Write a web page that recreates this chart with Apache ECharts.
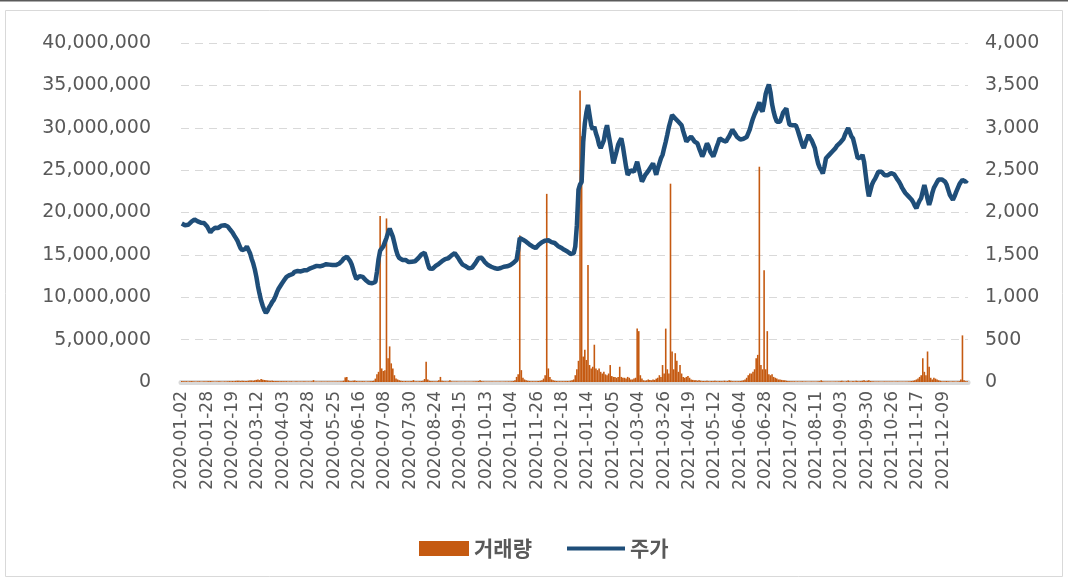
<!DOCTYPE html>
<html>
<head>
<meta charset="utf-8">
<script src="https://cdn.jsdelivr.net/npm/echarts@6/dist/echarts.min.js"></script>
<style>
html,body{margin:0;padding:0;background:#fff;}
#chart{width:1068px;height:582px;}
</style>
</head>
<body>
<div id="chart"></div>
<script>
// KRX market holidays (non-trading weekdays) in 2020-2021
const holidays = [
  '2020-01-24','2020-01-27','2020-04-15','2020-04-30','2020-05-01','2020-05-05',
  '2020-08-17','2020-09-30','2020-10-01','2020-10-02','2020-10-09','2020-12-25','2020-12-31',
  '2021-01-01','2021-02-11','2021-02-12','2021-03-01','2021-05-05','2021-05-19',
  '2021-08-16','2021-09-20','2021-09-21','2021-09-22','2021-10-04','2021-10-11','2021-12-31'
];
const startDate = '2020-01-02';
const endDate = '2021-12-30';

// 주가 (share price, right axis) — one value per trading day
const price = [
  1870,1862,1850,1848,1855,1872,1890,1905,1918,1910,1895,1888,1880,1870,1876,1860,
  1835,1800,1765,1790,1812,1820,1832,1818,1840,1845,1838,1850,1852,1835,1810,1790,
  1762,1730,1700,1670,1625,1580,1555,1540,1570,1598,1590,1520,1455,1400,1330,1240,
  1130,1040,960,900,850,815,840,880,910,945,970,1010,1060,1100,1130,1160,
  1180,1215,1240,1250,1262,1240,1275,1300,1320,1310,1290,1305,1325,1318,1300,1320,
  1335,1342,1330,1355,1362,1370,1358,1365,1380,1375,1368,1390,1395,1385,1392,1380,
  1375,1380,1370,1395,1410,1430,1455,1470,1480,1465,1430,1390,1330,1265,1215,1235,
  1250,1262,1240,1220,1200,1185,1170,1160,1165,1172,1180,1300,1450,1550,1570,1600,
  1650,1700,1760,1810,1790,1715,1640,1560,1500,1465,1450,1440,1455,1440,1420,1415,
  1405,1420,1435,1425,1440,1460,1480,1505,1520,1525,1470,1400,1340,1320,1335,1355,
  1370,1380,1395,1410,1425,1440,1450,1445,1460,1480,1495,1510,1520,1500,1470,1440,
  1410,1385,1380,1365,1350,1340,1335,1350,1375,1400,1430,1460,1480,1465,1440,1415,
  1395,1380,1370,1360,1350,1345,1338,1335,1340,1345,1352,1360,1355,1365,1370,1380,
  1390,1405,1420,1440,1560,1700,1690,1680,1665,1655,1640,1625,1610,1600,1590,1580,
  1600,1620,1640,1650,1660,1668,1680,1672,1660,1650,1645,1640,1620,1605,1595,1585,
  1570,1560,1555,1540,1525,1510,1500,1520,1600,1850,2270,2330,2360,2830,3050,3180,
  3270,3150,3030,2980,3010,2935,2880,2800,2760,2740,2850,2960,3030,2920,2815,2700,
  2580,2650,2720,2800,2840,2875,2780,2660,2540,2445,2470,2500,2520,2480,2540,2600,
  2520,2440,2365,2400,2440,2465,2490,2520,2550,2580,2510,2445,2520,2580,2640,2680,
  2760,2835,2920,3010,3080,3150,3130,3110,3090,3070,3050,3030,2960,2900,2835,2860,
  2880,2895,2870,2840,2830,2815,2760,2710,2660,2700,2760,2815,2780,2720,2690,2660,
  2710,2770,2820,2875,2860,2850,2840,2835,2870,2900,2940,2975,2950,2920,2890,2870,
  2860,2855,2870,2880,2890,2895,2980,3050,3110,3160,3200,3250,3300,3220,3190,3280,
  3400,3460,3510,3420,3280,3190,3120,3070,3060,3070,3120,3180,3200,3230,3120,3035,
  3050,3030,3040,3030,2980,2920,2860,2800,2760,2820,2870,2915,2880,2850,2835,2760,
  2660,2580,2530,2500,2460,2540,2640,2660,2680,2700,2720,2740,2760,2790,2810,2825,
  2835,2870,2920,2960,2995,2950,2900,2875,2800,2720,2640,2620,2650,2680,2600,2450,
  2300,2190,2260,2330,2370,2400,2440,2480,2500,2480,2460,2440,2425,2440,2455,2465,
  2465,2450,2420,2390,2365,2330,2290,2260,2230,2210,2190,2170,2150,2120,2080,2050,
  2100,2140,2170,2250,2325,2250,2160,2090,2150,2230,2290,2325,2360,2390,2405,2390,
  2380,2365,2330,2270,2210,2180,2150,2190,2240,2285,2330,2360,2385,2370,2360,2380
];

// 거래량 (trading volume, millions of shares, left axis)
const volumeMillions = [
  0.12,0.09,0.08,0.10,0.07,0.09,0.11,0.08,0.07,0.06,0.08,0.09,0.07,0.06,0.08,0.07,
  0.09,0.10,0.12,0.08,0.07,0.06,0.07,0.09,0.08,0.06,0.07,0.08,0.07,0.09,0.11,0.10,
  0.12,0.10,0.13,0.15,0.14,0.12,0.16,0.13,0.11,0.12,0.15,0.17,0.18,0.16,0.20,0.25,
  0.30,0.22,0.35,0.28,0.24,0.20,0.18,0.15,0.14,0.16,0.12,0.11,0.13,0.10,0.09,0.10,
  0.09,0.08,0.10,0.07,0.08,0.09,0.07,0.06,0.08,0.07,0.06,0.07,0.06,0.08,0.07,0.06,
  0.07,0.06,0.08,0.22,0.07,0.06,0.05,0.06,0.07,0.05,0.06,0.05,0.07,0.06,0.05,0.06,
  0.05,0.06,0.07,0.06,0.08,0.10,0.15,0.55,0.60,0.20,0.12,0.10,0.15,0.18,0.12,0.10,
  0.09,0.08,0.10,0.09,0.07,0.08,0.09,0.10,0.12,0.15,0.40,0.90,1.20,19.6,1.60,1.30,
  1.40,19.3,2.80,4.20,2.20,1.60,0.80,0.40,0.30,0.20,0.15,0.12,0.10,0.12,0.10,0.09,
  0.10,0.12,0.22,0.10,0.09,0.08,0.10,0.12,0.15,0.35,2.40,0.30,0.15,0.12,0.10,0.09,
  0.08,0.10,0.20,0.60,0.15,0.10,0.08,0.07,0.09,0.22,0.08,0.07,0.06,0.07,0.06,0.05,
  0.06,0.05,0.06,0.07,0.05,0.06,0.05,0.06,0.07,0.08,0.10,0.12,0.22,0.10,0.08,0.07,
  0.06,0.05,0.06,0.05,0.06,0.05,0.06,0.05,0.05,0.06,0.05,0.06,0.07,0.06,0.08,0.07,
  0.10,0.12,0.20,0.60,0.90,17.3,1.40,0.50,0.30,0.20,0.15,0.12,0.10,0.10,0.08,0.09,
  0.10,0.12,0.15,0.20,0.40,0.80,22.2,1.60,0.60,0.30,0.20,0.15,0.12,0.10,0.10,0.09,
  0.10,0.09,0.10,0.12,0.10,0.15,0.20,0.30,0.80,1.50,2.50,34.4,29.0,3.00,3.80,2.60,
  13.8,2.00,1.60,1.80,4.40,1.60,1.40,1.60,1.20,1.00,1.20,0.90,0.80,1.00,2.00,0.70,
  0.60,0.60,0.50,0.60,1.80,0.60,0.50,0.50,0.40,0.60,0.50,0.30,0.30,0.40,0.50,6.30,
  6.00,0.80,0.40,0.20,0.15,0.20,0.30,0.25,0.20,0.30,0.25,0.40,0.50,0.80,0.60,2.00,
  1.00,6.30,1.50,1.00,23.4,3.60,1.50,3.40,2.50,1.20,2.00,1.00,0.60,0.50,0.60,0.70,
  0.50,0.30,0.25,0.20,0.20,0.15,0.20,0.15,0.10,0.12,0.10,0.15,0.10,0.08,0.12,0.10,
  0.15,0.10,0.08,0.12,0.10,0.09,0.15,0.10,0.12,0.20,0.15,0.10,0.08,0.10,0.09,0.10,
  0.12,0.15,0.20,0.30,0.50,0.80,1.00,1.00,1.20,1.50,2.80,3.20,25.4,2.00,1.50,13.2,
  1.50,6.00,0.90,0.80,0.90,0.60,0.50,0.40,0.30,0.30,0.25,0.20,0.20,0.15,0.12,0.10,
  0.10,0.08,0.09,0.07,0.08,0.06,0.07,0.08,0.06,0.07,0.06,0.05,0.06,0.07,0.06,0.05,
  0.06,0.08,0.10,0.20,0.08,0.06,0.05,0.06,0.05,0.06,0.05,0.06,0.07,0.06,0.08,0.10,
  0.15,0.08,0.07,0.10,0.18,0.08,0.06,0.12,0.07,0.15,0.10,0.08,0.12,0.15,0.20,0.10,
  0.15,0.20,0.12,0.10,0.08,0.07,0.06,0.07,0.06,0.05,0.06,0.07,0.06,0.05,0.06,0.05,
  0.06,0.05,0.06,0.07,0.06,0.05,0.06,0.05,0.06,0.07,0.08,0.10,0.12,0.15,0.20,0.30,
  0.40,0.60,0.80,2.80,1.20,0.80,3.60,1.80,0.50,0.30,0.50,0.40,0.30,0.20,0.15,0.10,
  0.08,0.10,0.12,0.08,0.07,0.06,0.08,0.07,0.06,0.08,0.10,0.30,5.50,0.20,0.10,0.08
];

// trading-day category labels
const dates = [];
(function () {
  const d = new Date(startDate + 'T00:00:00Z');
  const end = new Date(endDate + 'T00:00:00Z');
  while (d <= end) {
    const wd = d.getUTCDay();
    const s = d.toISOString().slice(0, 10);
    if (wd !== 0 && wd !== 6 && holidays.indexOf(s) < 0) dates.push(s);
    d.setUTCDate(d.getUTCDate() + 1);
  }
})();

const volume = volumeMillions.map(v => Math.round(v * 1e6));

const fmt = v => v.toString().replace(/\B(?=(\d{3})+(?!\d))/g, ',');
const axisFont = 'DejaVu Sans';
const legendText = {fontFamily: 'Noto Sans CJK KR', fontSize: 21, fontWeight: 'bold', color: '#595959'};

const chart = echarts.init(document.getElementById('chart'), null, {renderer: 'canvas'});
chart.setOption({
  animation: false,
  backgroundColor: '#ffffff',
  graphic: [
    {type: 'line', shape: {x1: 0, y1: 0.5, x2: 1068, y2: 0.5}, style: {stroke: '#5a5a5a', lineWidth: 2}, silent: true},
    {type: 'rect', shape: {x: 5.5, y: 10.5, width: 1057, height: 566}, style: {fill: 'none', stroke: '#d9d9d9', lineWidth: 1}, silent: true}
  ],
  grid: {left: 181, right: 100, top: 43, bottom: 200, containLabel: false},
  legend: [
    {
      top: 533, left: 414,
      itemWidth: 50, itemHeight: 15, itemGap: 6,
      textStyle: legendText,
      data: [{name: '거래량', icon: 'rect'}]
    },
    {
      top: 533, left: 562,
      itemWidth: 58, itemHeight: 4, itemGap: 6,
      textStyle: legendText,
      data: [{name: '주가', icon: 'rect'}]
    }
  ],
  xAxis: {
    type: 'category',
    data: dates,
    boundaryGap: true,
    axisLine: {show: true, lineStyle: {color: '#d9d9d9', width: 5}},
    axisTick: {show: false},
    axisLabel: {
      interval: 15,
      rotate: 90,
      margin: 9,
      fontFamily: axisFont,
      fontSize: 17,
      color: '#595959'
    },
    splitLine: {show: false}
  },
  yAxis: [
    {
      type: 'value', min: 0, max: 40000000, interval: 5000000,
      axisLine: {show: false}, axisTick: {show: false},
      axisLabel: {formatter: fmt, fontFamily: axisFont, fontSize: 19, color: '#595959', margin: 30},
      splitLine: {show: true, lineStyle: {color: '#d9d9d9', width: 1, type: [8, 6]}}
    },
    {
      type: 'value', min: 0, max: 4000, interval: 500,
      axisLine: {show: false}, axisTick: {show: false},
      axisLabel: {formatter: fmt, fontFamily: axisFont, fontSize: 19, color: '#595959', margin: 17},
      splitLine: {show: false}
    }
  ],
  series: [
    {
      name: '거래량', type: 'bar', yAxisIndex: 0, data: volume,
      barWidth: 1.6,
      itemStyle: {color: '#C55A11'},
      z: 2
    },
    {
      name: '주가', type: 'line', yAxisIndex: 1, data: price,
      symbol: 'none', showSymbol: false,
      lineStyle: {color: '#1F4E79', width: 4.5},
      itemStyle: {color: '#1F4E79'},
      z: 3
    }
  ]
});
</script>
</body>
</html>
